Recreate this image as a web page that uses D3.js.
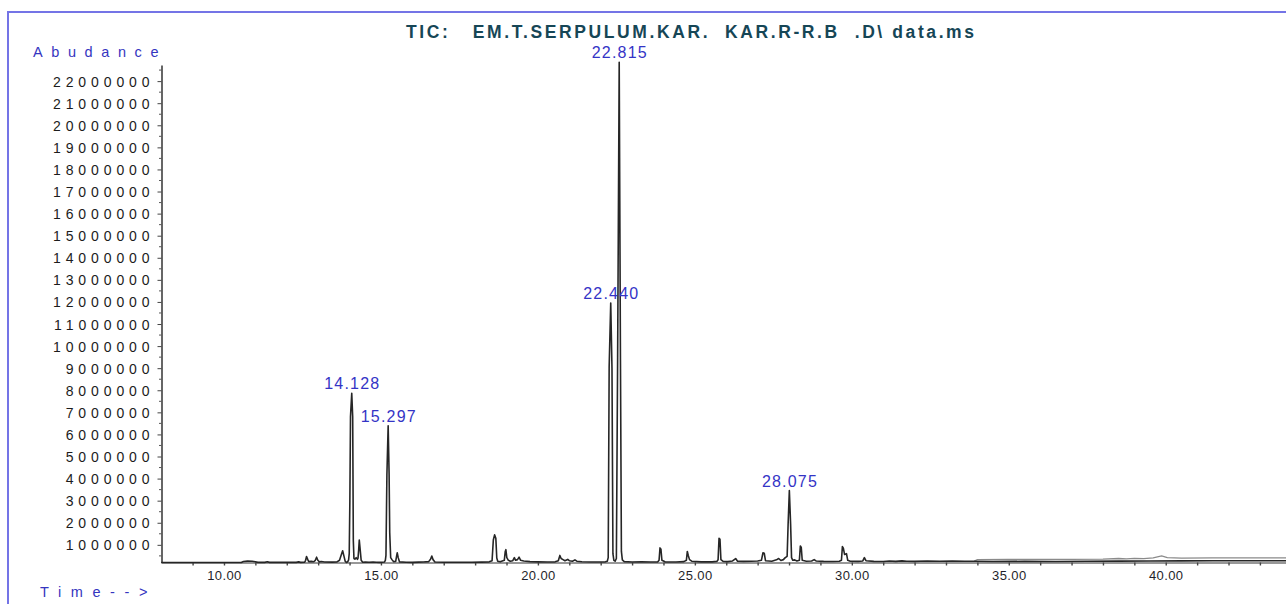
<!DOCTYPE html>
<html>
<head>
<meta charset="utf-8">
<title>TIC chromatogram</title>
<script src="https://cdn.jsdelivr.net/npm/d3@7"></script>
<style>
  html, body { margin: 0; padding: 0; background: #fff; }
  svg { display: block; }
  text { font-family: "Liberation Sans", Arial, sans-serif; }
</style>
</head>
<body>
<div id="main"></div>
<script>
"use strict";

// ---- data ----
const titleText = "TIC:   EM.T.SERPULUM.KAR.  KAR.R-R.B  .D\\ data.ms";
const yLabel = "Abudance";
const xLabel = "Time-->";

const xTickValues = [10, 15, 20, 25, 30, 35, 40];
const yTickValues = [1000000, 2000000, 3000000, 4000000, 5000000, 6000000, 7000000, 8000000,
    9000000, 10000000, 11000000, 12000000, 13000000, 14000000, 15000000, 16000000, 17000000,
    18000000, 19000000, 20000000, 21000000, 22000000];

// [retention time (min), abundance]
const trace = [
    [8.00, 200000], [8.60, 201000], [9.30, 199000], [10.00, 201000], [10.55, 203000],
    [10.62, 245000], [10.75, 262000], [10.90, 255000], [11.00, 236000], [11.08, 205000],
    [11.30, 206000], [11.38, 232000], [11.45, 206000], [11.90, 204000], [12.00, 210000],
    [12.30, 205000], [12.38, 228000], [12.44, 205000], [12.57, 212000], [12.60, 300000],
    [12.63, 470000], [12.67, 330000], [12.70, 240000], [12.78, 250000], [12.86, 235000],
    [12.91, 300000], [12.95, 440000], [12.99, 300000], [13.04, 230000], [13.10, 245000],
    [13.20, 222000], [13.45, 215000], [13.60, 225000], [13.68, 300000], [13.74, 560000],
    [13.78, 730000], [13.82, 500000], [13.86, 260000], [13.90, 200000], [13.94, 230000],
    [13.97, 320000], [13.99, 600000], [14.01, 3000000], [14.03, 6800000], [14.07, 7860000],
    [14.10, 6800000], [14.12, 1200000], [14.14, 380000], [14.17, 350000], [14.21, 420000],
    [14.25, 340000], [14.27, 400000], [14.29, 760000], [14.31, 1220000], [14.34, 760000],
    [14.37, 300000], [14.42, 210000], [14.50, 215000], [14.62, 208000], [14.75, 222000],
    [14.85, 210000], [14.95, 205000], [15.05, 212000], [15.11, 220000], [15.14, 300000],
    [15.16, 520000], [15.19, 4170000], [15.23, 6390000], [15.26, 4200000], [15.28, 1550000],
    [15.31, 420000], [15.35, 330000], [15.40, 240000], [15.47, 250000], [15.50, 500000],
    [15.52, 640000], [15.55, 420000], [15.59, 230000], [15.80, 212000], [16.00, 205000],
    [16.20, 215000], [16.35, 224000], [16.52, 240000], [16.58, 350000], [16.62, 490000],
    [16.66, 330000], [16.72, 225000], [17.00, 210000], [17.30, 214000], [17.60, 208000],
    [17.90, 212000], [18.20, 218000], [18.45, 230000], [18.54, 280000], [18.58, 1220000],
    [18.62, 1450000], [18.66, 1300000], [18.69, 400000], [18.72, 260000], [18.80, 230000],
    [18.93, 300000], [18.96, 700000], [18.98, 780000], [19.01, 420000], [19.06, 300000],
    [19.12, 260000], [19.20, 280000], [19.25, 420000], [19.29, 300000], [19.35, 330000],
    [19.40, 440000], [19.45, 300000], [19.55, 270000], [19.75, 240000], [20.00, 230000],
    [20.30, 222000], [20.55, 230000], [20.65, 280000], [20.70, 520000], [20.74, 380000],
    [20.80, 330000], [20.86, 280000], [20.95, 340000], [21.00, 280000], [21.10, 260000],
    [21.18, 320000], [21.24, 260000], [21.40, 232000], [21.70, 225000], [22.00, 222000],
    [22.15, 230000], [22.21, 260000], [22.24, 420000], [22.27, 9050000], [22.32, 11950000],
    [22.36, 9000000], [22.39, 600000], [22.42, 300000], [22.46, 260000], [22.50, 380000],
    [22.54, 9500000], [22.59, 22850000], [22.63, 9350000], [22.66, 700000], [22.69, 320000],
    [22.75, 240000], [23.00, 220000], [23.30, 230000], [23.60, 222000], [23.82, 230000],
    [23.86, 300000], [23.89, 860000], [23.92, 800000], [23.95, 300000], [24.05, 230000],
    [24.40, 225000], [24.65, 240000], [24.73, 300000], [24.76, 700000], [24.79, 520000],
    [24.83, 330000], [24.90, 260000], [25.20, 230000], [25.55, 230000], [25.70, 250000],
    [25.74, 320000], [25.77, 1300000], [25.80, 1250000], [25.83, 330000], [25.90, 250000],
    [26.05, 240000], [26.20, 270000], [26.30, 380000], [26.36, 260000], [26.55, 250000],
    [26.80, 260000], [27.00, 270000], [27.12, 300000], [27.17, 640000], [27.21, 620000],
    [27.25, 280000], [27.45, 260000], [27.60, 320000], [27.67, 380000], [27.74, 290000],
    [27.82, 330000], [27.88, 420000], [27.94, 480000], [27.97, 1900000], [28.01, 3460000],
    [28.05, 1950000], [28.08, 420000], [28.12, 300000], [28.18, 320000], [28.25, 270000],
    [28.33, 300000], [28.36, 950000], [28.39, 880000], [28.42, 300000], [28.55, 260000],
    [28.72, 270000], [28.80, 330000], [28.86, 270000], [29.10, 250000], [29.40, 245000],
    [29.60, 260000], [29.67, 300000], [29.70, 920000], [29.73, 850000], [29.77, 560000],
    [29.83, 600000], [29.87, 300000], [29.95, 260000], [30.20, 250000], [30.35, 270000],
    [30.40, 420000], [30.45, 280000], [30.70, 250000], [31.00, 245000], [31.20, 265000],
    [31.40, 250000], [31.60, 275000], [31.75, 260000], [32.00, 252000], [32.40, 265000],
    [32.80, 258000], [33.20, 262000], [33.60, 255000], [33.90, 258000], [34.50, 245000],
    [35.50, 250000], [36.50, 248000], [37.50, 255000], [38.50, 262000], [39.50, 270000],
    [40.50, 275000], [41.50, 278000], [42.50, 280000], [44.00, 282000]
];

// upper edge of the noisy baseline after ~34 min (drawn grey)
const noiseUpper = [
    [33.90, 262000], [34.00, 330000], [35.00, 335000], [36.00, 340000], [37.00, 342000],
    [38.00, 350000], [38.50, 380000], [38.75, 365000], [39.00, 390000], [39.30, 375000],
    [39.60, 410000], [39.87, 500000], [40.05, 420000], [40.50, 400000], [41.50, 405000],
    [42.50, 410000], [44.00, 410000]
];

// integrated peaks that carry a retention-time label
const peakLabels = [
    { text: "14.128", t: 14.07, v: 7860000 },
    { text: "15.297", t: 15.23, v: 6390000 },
    { text: "22.440", t: 22.32, v: 11950000 },
    { text: "22.815", t: 22.59, v: 22850000 },
    { text: "28.075", t: 28.01, v: 3460000 }
];

// ---- drawing ----
const width = 1286;
const height = 604;

const svg = d3.select("#main").append("svg")
    .attr("width", width)
    .attr("height", height);

const x = d3.scaleLinear().domain([8, 44]).range([161.2, 1291.3]);
const y = d3.scaleLinear().domain([200000, 22730000]).range([562.5, 65]);

// blue frame of the report window
svg.append("path")
    .attr("d", `M8,${height} L8,12 L${width},12`)
    .attr("fill", "none")
    .attr("stroke", "#7474e6")
    .attr("stroke-width", 2);

// title
svg.append("text")
    .attr("x", 406)
    .attr("y", 38)
    .attr("textLength", 568)
    .attr("lengthAdjust", "spacing")
    .style("white-space", "pre")
    .style("font-size", "17.5px")
    .style("font-weight", "bold")
    .attr("fill", "#164656")
    .text(titleText);

// axis captions
svg.append("text")
    .attr("x", 33)
    .attr("y", 57)
    .style("font-size", "14.5px")
    .style("letter-spacing", "8.6px")
    .attr("fill", "#3535c0")
    .text(yLabel);

svg.append("text")
    .attr("x", 40)
    .attr("y", 597)
    .style("font-size", "14.5px")
    .style("letter-spacing", "9.6px")
    .attr("fill", "#3535c0")
    .text(xLabel);

// y axis with major ticks every million and small ones in between
const yAxis = svg.append("g")
    .attr("transform", "translate(161.5,0)")
    .call(d3.axisLeft(y)
        .tickValues(yTickValues)
        .tickSize(4)
        .tickSizeOuter(0)
        .tickFormat(d3.format("d")));
yAxis.select(".domain").attr("stroke", "#333").attr("stroke-width", 1.5);
yAxis.selectAll(".tick line").attr("stroke", "#444");
yAxis.selectAll(".tick text")
    .attr("x", -7)
    .attr("dy", "0.36em")
    .style("font-size", "14px")
    .style("letter-spacing", "4.9px")
    .attr("fill", "#1c1c1c");

svg.append("g")
    .attr("transform", "translate(161.5,0)")
    .selectAll("line")
    .data(yTickValues.map(v => v - 500000).concat([22500000]))
    .join("line")
    .attr("x1", -2.5)
    .attr("x2", 0)
    .attr("y1", d => y(d))
    .attr("y2", d => y(d))
    .attr("stroke", "#555");

// x axis: labelled ticks every 5 min, small ticks every minute
const xAxis = svg.append("g")
    .attr("transform", `translate(0,${y(200000)})`)
    .call(d3.axisBottom(x)
        .tickValues(d3.range(9, 45, 1))
        .tickSize(3)
        .tickSizeOuter(0)
        .tickFormat(d => xTickValues.includes(d) ? d3.format(".2f")(d) : ""));
xAxis.select(".domain").attr("stroke", "#333").attr("stroke-width", 1.2);
xAxis.selectAll(".tick line").attr("stroke", "#444").attr("stroke-width", 1.4);
xAxis.selectAll(".tick text")
    .attr("y", 8)
    .style("font-size", "13px")
    .style("letter-spacing", "0.4px")
    .attr("fill", "#1f1f2a");

// chromatogram trace
const line = d3.line()
    .x(d => x(d[0]))
    .y(d => y(d[1]));

svg.append("path")
    .datum(noiseUpper)
    .attr("d", line)
    .attr("fill", "none")
    .attr("stroke", "#8a8a8a")
    .attr("stroke-width", 1.3);

svg.append("path")
    .datum(trace)
    .attr("d", line)
    .attr("fill", "none")
    .attr("stroke", "#262626")
    .attr("stroke-width", 1.6)
    .attr("stroke-linejoin", "round");

// retention time labels above the peaks
svg.append("g")
    .selectAll("text")
    .data(peakLabels)
    .join("text")
    .attr("x", d => x(d.t) + 0.6)
    .attr("y", d => y(d.v) - 4)
    .attr("text-anchor", "middle")
    .style("font-size", "16px")
    .style("letter-spacing", "1.2px")
    .attr("fill", "#3434c6")
    .text(d => d.text);
</script>
</body>
</html>
